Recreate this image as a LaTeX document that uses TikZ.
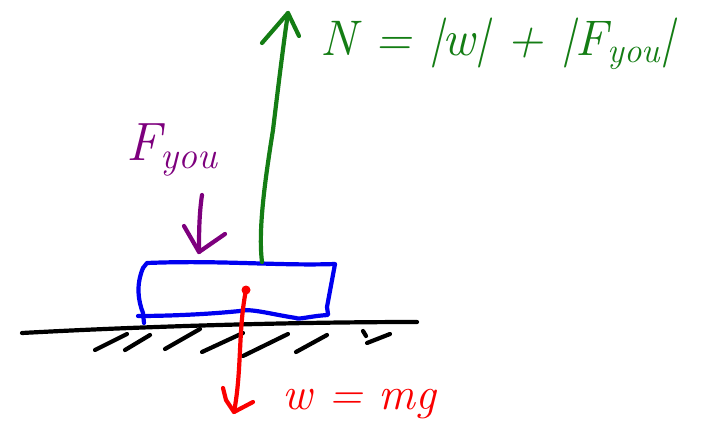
\documentclass[tikz,border=0pt]{standalone}
\usepackage{fontspec}
\usetikzlibrary{calc}
\definecolor{pgreen}{RGB}{20,125,20}
\definecolor{pblue}{RGB}{0,0,240}
\definecolor{pred}{RGB}{250,0,0}
\definecolor{ppurple}{RGB}{125,0,125}
\begin{document}
\begin{tikzpicture}[x=1pt,y=-1pt,
  pen/.style={line width=4.2pt,line cap=round,line join=round},
  lbl/.style={inner sep=0pt,anchor=west}]
\useasboundingbox (0,0) rectangle (720,439);
% ground
\coordinate (gl) at (22,333);
\coordinate (gr) at (417,322);
\draw[pen,black] (gl) .. controls (150,326) and (300,322) .. (gr);
% hatches
\foreach \a/\b in {{95,350}/{127,334},{125,350}/{150,335},{165,349}/{200,329},{202,352}/{243,333},{243,356}/{288,334},{296,352}/{327,335},{367,343}/{390,334}}
  \draw[pen,black] (\a) -- (\b);
\draw[pen,black] (363,331) -- (366,336);
% box
\coordinate (tl) at (147,263);
\coordinate (tr) at (335,264);
\coordinate (br) at (328,315);
\coordinate (bl) at (138,316);
\draw[pen,pblue] (143,268) -- (tl) .. controls (220,260) and (280,266) .. (tr)
  -- (327,307) -- (328,314) -- (br)
  .. controls (310,316) and (298,320) .. (296,318)
  .. controls (270,314) and (250,308) .. (240,311)
  .. controls (200,315) and (160,316) .. (bl);
\draw[pen,pblue] (143,268) .. controls (136,285) and (138,300) .. (143,313) -- (144,323);
% green normal force
\coordinate (ns) at (262,262);
\coordinate (nt) at (288,13);
\draw[pen,pgreen] (ns) .. controls (258,230) and (265,180) .. (273,130) .. controls (279,80) and (284,40) .. (nt);
\draw[pen,pgreen] (262,43) -- (nt) -- (299,36);
\node[lbl,text=pgreen,font=\fontsize{50}{54}\selectfont\itshape] (nlab) at (320,44) {N = |w| + |F\textsubscript{you}|};
% purple force
\coordinate (ps) at (202,195);
\coordinate (pt) at (199,252);
\draw[pen,ppurple] (ps) .. controls (199,215) and (199,235) .. (pt);
\draw[pen,ppurple] (184,226) -- (pt) -- (225,234);
\node[lbl,text=ppurple,font=\fontsize{54}{58}\selectfont\itshape] (flab) at (126,150) {F\textsubscript{you}};
% red weight
\coordinate (ws) at (246,290);
\coordinate (wt) at (234,412);
\fill[pred] (ws) circle (4.5pt);
\draw[pen,pred] (ws) .. controls (238,330) and (242,370) .. (wt);
\draw[pen,pred] (223,388) -- (226,400) -- (wt) -- (253,402);
\node[lbl,text=pred,font=\fontsize{46}{50}\selectfont\itshape] (wlab) at (282,404) {w = mg};
\end{tikzpicture}
\end{document}
